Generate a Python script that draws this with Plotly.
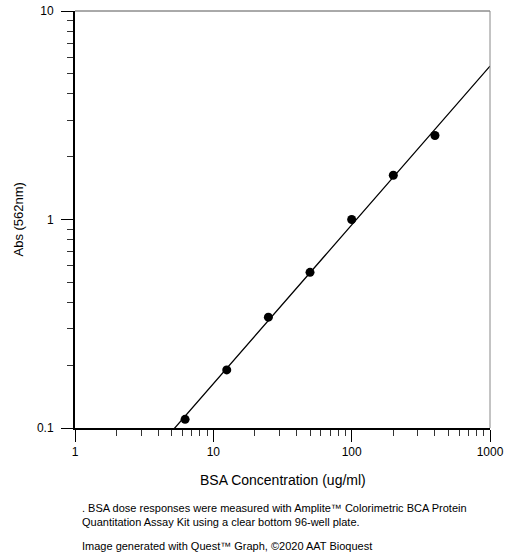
import numpy as np
import plotly.graph_objects as go

# Data
conc = [6.25, 12.5, 25, 50, 100, 200, 400]          # BSA concentration (ug/ml)
absorb = [0.110, 0.190, 0.340, 0.558, 1.00, 1.63, 2.53]  # Abs (562nm)

x_tickvals = [1, 10, 100, 1000]
x_ticktext = ["1", "10", "100", "1000"]
x_minorvals = [2, 3, 4, 5, 6, 7, 8, 9, 20, 30, 40, 50, 60, 70, 80, 90,
               200, 300, 400, 500, 600, 700, 800, 900]
y_tickvals = [0.1, 1, 10]
y_ticktext = ["0.1", "1", "10"]
y_minorvals = [0.2, 0.3, 0.4, 0.5, 0.6, 0.7, 0.8, 0.9, 2, 3, 4, 5, 6, 7, 8, 9]

x_title = "BSA Concentration (ug/ml)"
y_title = "Abs (562nm)"
caption1 = ". BSA dose responses were measured with Amplite\u2122 Colorimetric BCA Protein<br>Quantitation Assay Kit using a clear bottom 96-well plate."
caption2 = "Image generated with Quest\u2122 Graph, \u00a92020 AAT Bioquest"

# Power-law (log-log linear) fit of the data
slope, intercept = np.polyfit(np.log10(conc), np.log10(absorb), 1)
fit_x = np.logspace(0, 3, 200)
fit_y = 10 ** (intercept + slope * np.log10(fit_x))

FONT = "Liberation Sans, Arial, sans-serif"
PW, PH, L, T = 415, 417, 75, 11  # plot size / margins in px (for paper coordinates)

fig = go.Figure()
fig.add_trace(go.Scatter(x=fit_x, y=fit_y, mode="lines",
                         line=dict(color="black", width=1.3),
                         hoverinfo="skip", showlegend=False, cliponaxis=True))
fig.add_trace(go.Scatter(x=conc, y=absorb, mode="markers",
                         marker=dict(color="black", size=9),
                         showlegend=False))

axis_common = dict(
    type="log", showgrid=False, zeroline=False, automargin=False,
    showline=True, linecolor="black", linewidth=2,
    ticks="outside", ticklen=12, tickwidth=1, tickcolor="black",
    tickfont=dict(family=FONT, size=12, color="black"),
)
minor_common = dict(ticks="outside", ticklen=6, tickwidth=1, tickcolor="#333", showgrid=False)

fig.update_xaxes(range=[0, 3], tickvals=x_tickvals, ticktext=x_ticktext,
                 minor=dict(tickvals=x_minorvals, **minor_common), **axis_common)
fig.update_yaxes(range=[-1, 1], tickvals=y_tickvals, ticktext=y_ticktext,
                 minor=dict(tickvals=y_minorvals, **minor_common),
                 ticklabelstandoff=5, **axis_common)

# thin grey top and right frame lines
fig.add_shape(type="line", xref="paper", yref="paper", x0=0, x1=1, y0=1, y1=1,
              line=dict(color="#555", width=1))
fig.add_shape(type="line", xref="paper", yref="paper", x0=1, x1=1, y0=0, y1=1,
              line=dict(color="#888", width=1))

def px_x(p):
    return (p - L) / PW

def px_y(p):
    return (T + PH - p) / PH

# axis titles
fig.add_annotation(text=x_title, xref="paper", yref="paper", x=px_x(283), y=px_y(480),
                   xanchor="center", yanchor="middle", showarrow=False,
                   font=dict(family=FONT, size=14, color="black"))
fig.add_annotation(text=y_title, xref="paper", yref="paper", x=px_x(17.5), y=px_y(220),
                   xanchor="center", yanchor="middle", showarrow=False, textangle=-90,
                   font=dict(family=FONT, size=13, color="black"))

# captions
fig.add_annotation(text=caption1, xref="paper", yref="paper", x=px_x(80), y=px_y(500),
                   xanchor="left", yanchor="top", align="left", showarrow=False,
                   font=dict(family=FONT, size=11, color="black"))
fig.add_annotation(text=caption2, xref="paper", yref="paper", x=px_x(80), y=px_y(546),
                   xanchor="left", yanchor="middle", align="left", showarrow=False,
                   font=dict(family=FONT, size=11, color="black"))

fig.update_layout(width=507, height=555, margin=dict(l=L, r=17, t=T, b=127),
                  paper_bgcolor="white", plot_bgcolor="white")

fig.write_html("out.html", config={"displayModeBar": False},
               post_script="document.body.style.margin='0';document.body.style.padding='0';")
